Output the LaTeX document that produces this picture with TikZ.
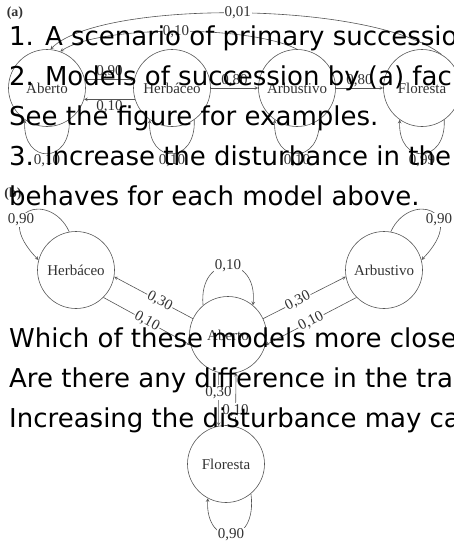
\documentclass[tikz,border=0pt]{standalone}
\usepackage{fontspec}
\setmainfont{Liberation Serif}
\newfontfamily\qfont{DejaVu Sans}
\usepackage{tikz}
\usepackage{xcolor}
\definecolor{scanline}{HTML}{555555}
\definecolor{scantext}{HTML}{333333}
\tikzset{
  st/.style={draw=scanline,line width=.6pt,circle,minimum size=77,inner sep=0,
    font=\fontsize{15}{15}\selectfont,text=scantext},
  ln/.style={->,draw=scanline,line width=.6pt},
  num/.style={fill=white,inner sep=1pt,font=\fontsize{15}{15}\selectfont,text=scantext},
  tag/.style={inner sep=0,font=\fontsize{14}{14}\selectfont\bfseries,text=scantext},
  qline/.style={anchor=base west,inner sep=0,font=\qfont\fontsize{26}{26}\selectfont}
}

\begin{document}
\begin{tikzpicture}[x=1pt,y=1pt,>=stealth]
  \useasboundingbox (0,0) rectangle (454,-547);
  \clip (0,0) rectangle (454,-547);

  % (a) chain
  \node[tag] (tagA) at (15,-13) {(a)};
  \node[st] (abA) at (47,-88) {Aberto};
  \node[st] (heA) at (172,-88) {Herbáceo};
  \node[st] (arA) at (297,-88) {Arbustivo};
  \node[st] (flA) at (422,-88) {Floresta};
  \draw[ln] (abA.13) -- (heA.167) node[num,midway,above] {0,90};
  \draw[ln] (heA.-163) -- (abA.-17) node[num,midway,below] {0,10};
  \draw[ln] (heA) -- (arA) node[num,midway,above] {0,80};
  \draw[ln] (arA) -- (flA) node[num,midway,above] {0,80};
  \draw[ln] (arA.north) .. controls (250,-25) and (100,-25) .. (abA.70) node[num,pos=.5] {0,10};
  \draw[ln] (flA.60) .. controls (370,0) and (100,0) .. (abA.85) node[num,pos=.5] {0,01};
  \foreach \n/\p in {abA/{0,10},heA/{0,10},arA/{0,10},flA/{0,99}}
    \draw[ln] (\n.-55) .. controls +(2,-45) and +(-2,-45) .. (\n.-125) node[num,pos=.5,below] {\p};

  % (b) graph
  \node[tag] (tagB) at (13,-194) {(b)};
  \node[st] (heB) at (76,-270) {Herbáceo};
  \node[st] (arB) at (384,-270) {Arbustivo};
  \node[st] (abB) at (228,-335) {Aberto};
  \node[st] (flB) at (226,-464) {Floresta};
  \draw[ln] (heB.100) .. controls (50,-190) and (-10,-210) .. (heB.165) node[num,pos=.65] {0,90};
  \draw[ln] (arB.80) .. controls (410,-190) and (470,-210) .. (arB.15) node[num,pos=.65] {0,90};
  \draw[ln] (abB.130) .. controls (198,-253) and (258,-253) .. (abB.50) node[num,pos=.5] {0,10};
  \draw[ln] (abB.155) -- (heB.-10) node[num,sloped,pos=.42] {0,30};
  \draw[ln] (heB.-45) -- (abB.195) node[num,sloped,midway] {0,10};
  \draw[ln] (abB.25) -- (arB.190) node[num,sloped,pos=.42] {0,30};
  \draw[ln] (arB.225) -- (abB.-15) node[num,sloped,midway] {0,10};
  \draw[ln] (abB.-104) -- (flB.101) node[num,pos=.37] {0,30};
  \draw[ln] (flB.76) -- (abB.-78) node[num,pos=.3] {0,10};
  \draw[ln] (flB.-50) .. controls (258,-548) and (205,-548) .. (flB.-118) node[num,pos=.5] {0,90};

  % questions over the figure
  \node[qline] (q1) at (9,-45) {1. A scenario of primary succession};
  \node[qline] (q2) at (9,-85) {2. Models of succession by (a) facilitation};
  \node[qline] (q3) at (9,-125) {See the figure for examples.};
  \node[qline] (q4) at (9,-165) {3. Increase the disturbance in the};
  \node[qline] (q5) at (9,-205) {behaves for each model above.};
  \node[qline] (q6) at (9,-347) {Which of these models more closely};
  \node[qline] (q7) at (9,-387) {Are there any difference in the transition};
  \node[qline] (q8) at (9,-427) {Increasing the disturbance may cause};
\end{tikzpicture}
\end{document}
